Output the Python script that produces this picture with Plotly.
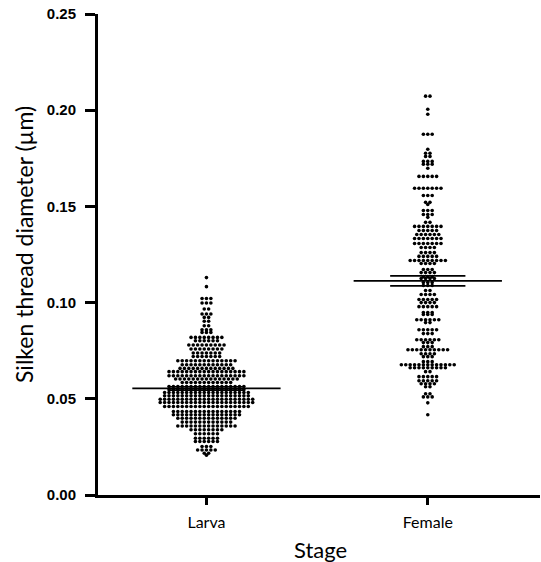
import numpy as np
import plotly.graph_objects as go

# ---- data: beeswarm rows = value level + number of dots ----
categories = ["Larva", "Female"]

larva_levels = [0.1130, 0.1083, 0.1021, 0.0998, 0.0967, 0.0941, 0.0923, 0.0903, 0.0880, 0.0859,
                0.0845, 0.0819, 0.0802, 0.0780, 0.0759, 0.0738, 0.0720, 0.0698, 0.0677, 0.0658,
                0.0641, 0.0620, 0.0603, 0.0585, 0.0564, 0.0547, 0.0533, 0.0516, 0.0498, 0.0481,
                0.0460, 0.0434, 0.0417, 0.0399, 0.0379, 0.0359, 0.0339, 0.0318, 0.0295, 0.0278,
                0.0252, 0.0234, 0.0217, 0.0207]
larva_counts = [1, 1, 3, 3, 2, 3, 2, 2, 2, 3,
                3, 8, 6, 9, 8, 7, 7, 14, 12, 13,
                18, 18, 15, 12, 18, 18, 20, 20, 22, 22,
                20, 16, 16, 14, 12, 14, 8, 6, 6, 6,
                3, 5, 2, 1]

female_levels = [0.2073, 0.2005, 0.1979, 0.1875, 0.1797, 0.1776, 0.1760, 0.1734, 0.1719, 0.1698,
                 0.1656, 0.1594, 0.1557, 0.1521, 0.1510, 0.1479, 0.1458, 0.1443, 0.1417, 0.1396,
                 0.1375, 0.1354, 0.1333, 0.1307, 0.1286, 0.1260, 0.1240, 0.1219, 0.1203, 0.1172,
                 0.1156, 0.1135, 0.1125, 0.1104, 0.1089, 0.1063, 0.1042, 0.1016, 0.1000, 0.0979,
                 0.0948, 0.0938, 0.0911, 0.0896, 0.0859, 0.0839, 0.0807, 0.0792, 0.0771, 0.0755,
                 0.0734, 0.0719, 0.0693, 0.0677, 0.0661, 0.0641, 0.0615, 0.0594, 0.0578, 0.0563,
                 0.0526, 0.0510, 0.0479, 0.0417]
female_counts = [2, 1, 1, 3, 1, 2, 2, 3, 3, 1,
                 5, 7, 3, 2, 1, 3, 3, 1, 2, 7,
                 5, 6, 7, 7, 4, 4, 5, 9, 4, 3,
                 4, 3, 4, 3, 3, 2, 4, 5, 4, 5,
                 3, 3, 6, 2, 5, 3, 6, 3, 3, 10,
                 4, 3, 3, 13, 9, 2, 5, 5, 4, 2,
                 2, 3, 1, 1]

means = [0.0554, 0.1113]
sems = [0.0009, 0.0026]

# ---- layout constants ----
DX = 0.0199        # horizontal dot spacing in category units
MEAN_HALF = 0.335  # half width of mean line
SEM_HALF = 0.17    # half width of SEM lines

fig = go.Figure()

for ci, (levels, counts) in enumerate([(larva_levels, larva_counts), (female_levels, female_counts)]):
    xs, ys = [], []
    for v, n in zip(levels, counts):
        offs = (np.arange(n) - (n - 1) / 2.0) * DX
        xs.extend(ci + offs)
        ys.extend([v] * n)
    fig.add_trace(go.Scatter(x=xs, y=ys, mode="markers",
                             marker=dict(size=3.6, color="black"),
                             hoverinfo="y", showlegend=False))

for ci in range(len(categories)):
    m, s = means[ci], sems[ci]
    fig.add_trace(go.Scatter(x=[ci - MEAN_HALF, ci + MEAN_HALF], y=[m, m], mode="lines",
                             line=dict(color="black", width=1.6), showlegend=False, hoverinfo="skip"))
    for yy in (m - s, m + s):
        fig.add_trace(go.Scatter(x=[ci - SEM_HALF, ci + SEM_HALF], y=[yy, yy], mode="lines",
                                 line=dict(color="black", width=1.6), showlegend=False, hoverinfo="skip"))

fig.update_layout(
    width=541, height=562,
    margin=dict(l=98, r=1, t=14, b=67),
    paper_bgcolor="white", plot_bgcolor="white",
    xaxis=dict(range=[-0.49, 1.507], tickvals=[0, 1], ticktext=categories,
               showline=True, linecolor="black", linewidth=3, ticks="outside", ticklen=7,
               tickwidth=2.5, tickcolor="black", showgrid=False, zeroline=False,
               tickfont=dict(family="Lato", size=16, color="black"), ticklabelstandoff=4),
    yaxis=dict(range=[0, 0.25], tickvals=[0, 0.05, 0.10, 0.15, 0.20, 0.25],
               ticktext=["0.00", "0.05", "0.10", "0.15", "0.20", "0.25"],
               showline=True, linecolor="black", linewidth=3, ticks="outside", ticklen=10,
               tickwidth=2.5, tickcolor="black", showgrid=False, zeroline=False,
               tickfont=dict(family="Liberation Sans", size=15, color="black", weight="bold"),
               ticklabelstandoff=6),
    annotations=[
        dict(text="Silken thread diameter (µm)", xref="paper", yref="paper",
             x=(24 - 98) / 442, y=(495 - 245) / 481, xanchor="center", yanchor="middle",
             textangle=-90, showarrow=False, font=dict(family="Lato", size=23, color="black")),
        dict(text="Stage", xref="paper", yref="paper",
             x=(320 - 98) / 442, y=-(549 - 495) / 481, xanchor="center", yanchor="middle",
             showarrow=False, font=dict(family="Lato", size=22, color="black")),
    ],
)

fig.write_html("out.html", config={"displayModeBar": False},
               post_script="document.body.style.margin='0';document.body.style.padding='0';")
